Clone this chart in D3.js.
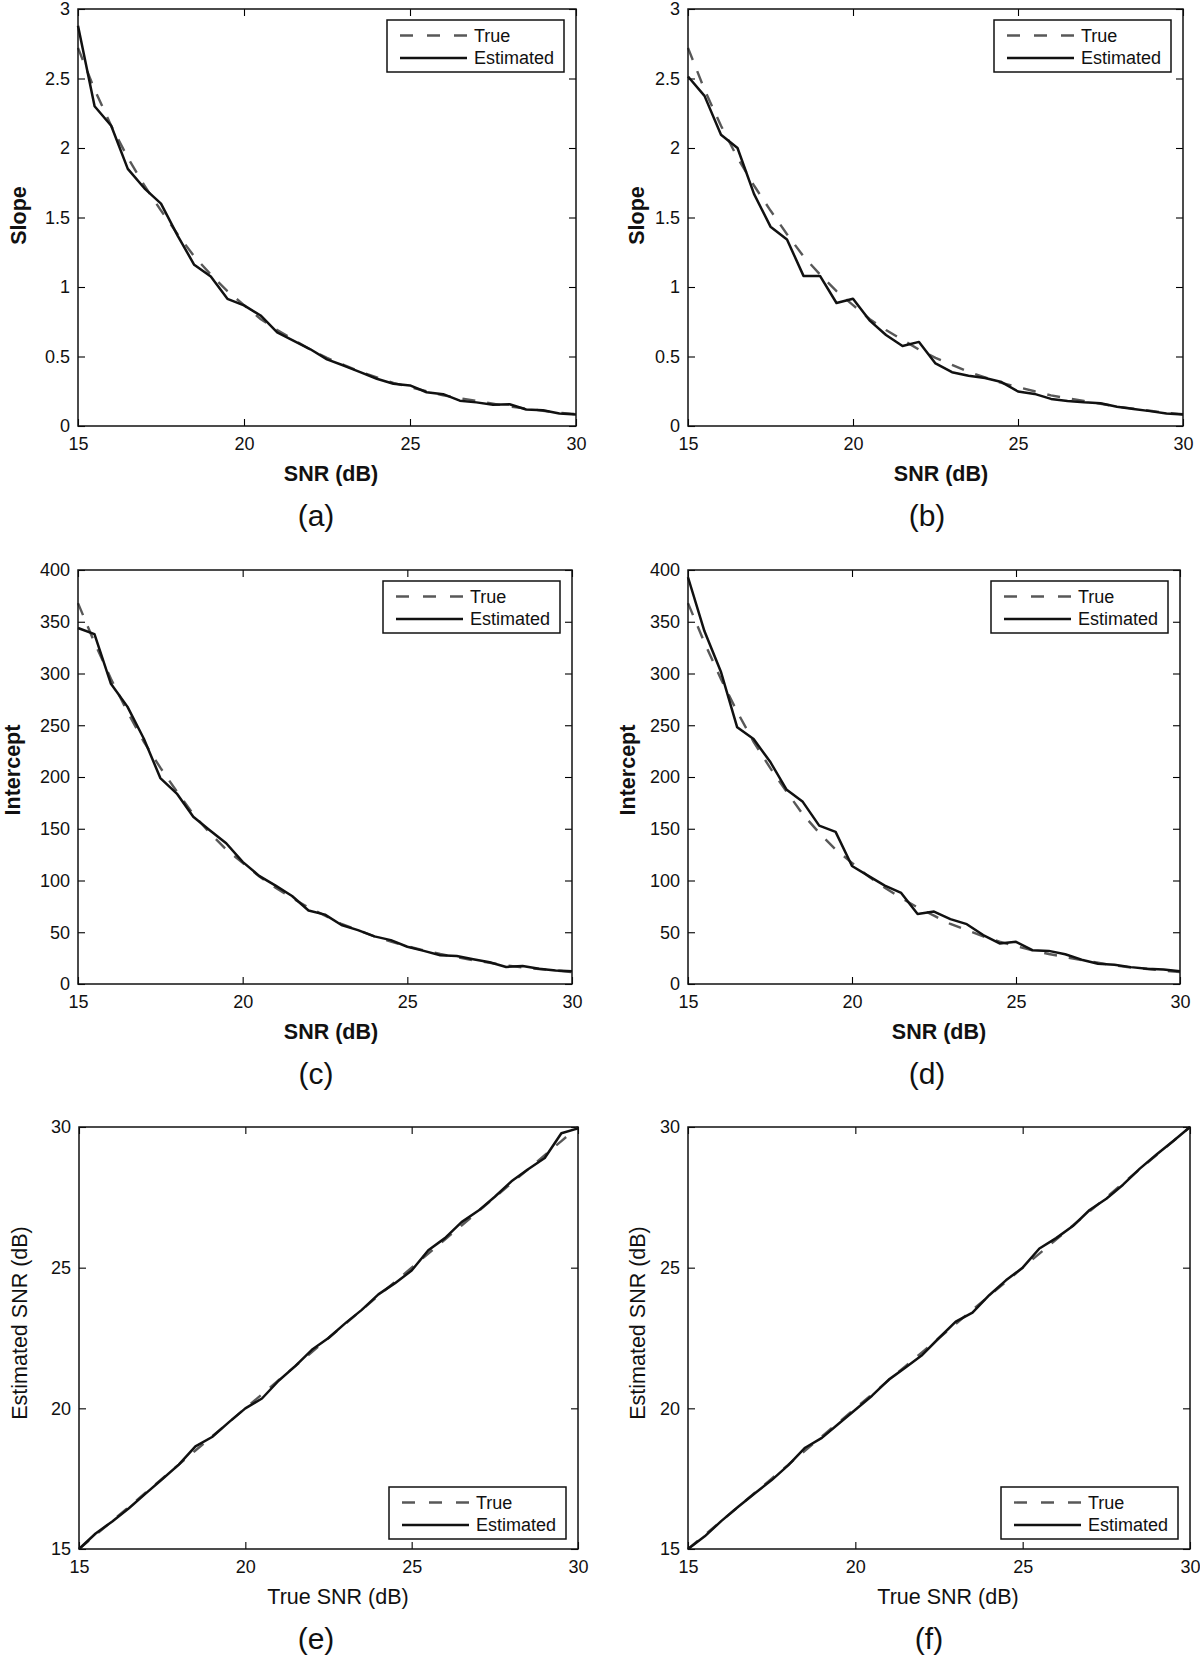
<!DOCTYPE html>
<html>
<head>
<meta charset="utf-8">
<script src="https://cdn.jsdelivr.net/npm/d3@7"></script>
<style>
  html, body { margin: 0; padding: 0; background: #fff; }
  svg { display: block; font-family: "Liberation Sans", Arial, Helvetica, sans-serif; }
</style>
</head>
<body>
<svg id="chart" width="1200" height="1655"></svg>
<script>
// ---------------- DATA ----------------
const snr = [15, 15.5, 16, 16.5, 17, 17.5, 18, 18.5, 19, 19.5, 20, 20.5, 21, 21.5, 22, 22.5,
             23, 23.5, 24, 24.5, 25, 25.5, 26, 26.5, 27, 27.5, 28, 28.5, 29, 29.5, 30];

const slopeTrue = [2.72, 2.42, 2.16, 1.93, 1.73, 1.55, 1.38, 1.22, 1.09, 0.97, 0.87, 0.77, 0.69, 0.62, 0.55, 0.49,
                   0.44, 0.39, 0.35, 0.31, 0.28, 0.25, 0.22, 0.20, 0.18, 0.16, 0.14, 0.125, 0.11, 0.095, 0.085];
const slopeEstA = [2.88, 2.30, 2.16, 1.85, 1.71, 1.60, 1.37, 1.16, 1.075, 0.915, 0.868, 0.795, 0.673, 0.613, 0.552, 0.479,
                   0.435, 0.387, 0.34, 0.304, 0.292, 0.243, 0.229, 0.182, 0.17, 0.153, 0.156, 0.119, 0.114, 0.09, 0.083];
const slopeEstB = [2.514, 2.375, 2.096, 2.0, 1.67, 1.434, 1.342, 1.08, 1.08, 0.885, 0.915, 0.76, 0.655, 0.576, 0.605, 0.45,
                   0.387, 0.362, 0.345, 0.316, 0.248, 0.231, 0.195, 0.18, 0.17, 0.163, 0.139, 0.122, 0.107, 0.09, 0.083];

const interceptTrue = [368, 330, 295, 263, 234, 209, 186, 164, 146, 130, 117, 104, 93, 83, 74, 66,
                       58, 52, 46, 41, 36.5, 32.5, 29, 26, 23, 20.5, 18, 16, 14.5, 13, 11.5];
const interceptEstC = [344, 338, 290, 268, 237, 199, 184, 161.6, 148.6, 136, 118, 104.5, 95, 85, 71, 67,
                       57, 52, 46, 42.4, 36, 32, 27.8, 27, 24, 21, 16.5, 17.3, 14.7, 13, 12.4];
const interceptEstD = [393, 341, 302, 248, 236.7, 215, 188, 176, 153, 147, 114, 104.5, 95, 88, 67.6, 70,
                       62.7, 57.8, 47.3, 39.2, 40.8, 32.7, 32, 28.7, 23.5, 19.6, 18.6, 16.3, 14.7, 14, 12.4];

const snrTrueLine = [15, 15.5, 16, 16.5, 17, 17.5, 18, 18.5, 19, 19.5, 20, 20.5, 21, 21.5, 22, 22.5,
                     23, 23.5, 24, 24.5, 25, 25.5, 26, 26.5, 27, 27.5, 28, 28.5, 29, 29.5, 30];
const snrEstE = [15.0, 15.55, 15.98, 16.45, 16.97, 17.48, 18.0, 18.65, 18.98, 19.5, 20.0, 20.35, 20.98, 21.5, 22.08, 22.5,
                 23.02, 23.5, 24.05, 24.45, 24.9, 25.62, 26.05, 26.62, 27.02, 27.52, 28.07, 28.5, 28.9, 29.78, 29.95];
const snrEstF = [15.0, 15.45, 16.0, 16.5, 16.98, 17.45, 17.98, 18.6, 18.95, 19.45, 19.95, 20.45, 21.02, 21.45, 21.9, 22.5,
                 23.08, 23.4, 24.02, 24.55, 25.0, 25.68, 26.05, 26.48, 27.05, 27.45, 27.95, 28.52, 29.02, 29.5, 30.0];

const xTicks = [15, 20, 25, 30];
const slopeTicks = [0, 0.5, 1, 1.5, 2, 2.5, 3];
const interceptTicks = [0, 50, 100, 150, 200, 250, 300, 350, 400];
const snrTicks = [15, 20, 25, 30];
const legendLabels = ["True", "Estimated"];

// ---------------- LAYOUT ----------------
const panels = [
  { id: "(a)", box: [78, 9, 576, 426], yDomain: [0, 3], yTicks: slopeTicks, trueY: slopeTrue, estY: slopeEstA,
    xLabel: "SNR (dB)", yLabel: "Slope", bold: true, legend: "top", yLabelX: 18, yLabelDy: -2, xLabelX: 331, subX: 316 },
  { id: "(b)", box: [688, 9, 1183, 426], yDomain: [0, 3], yTicks: slopeTicks, trueY: slopeTrue, estY: slopeEstB,
    xLabel: "SNR (dB)", yLabel: "Slope", bold: true, legend: "top", yLabelX: 636, yLabelDy: -2, xLabelX: 941, subX: 927 },
  { id: "(c)", box: [78, 570, 572, 984], yDomain: [0, 400], yTicks: interceptTicks, trueY: interceptTrue, estY: interceptEstC,
    xLabel: "SNR (dB)", yLabel: "Intercept", bold: true, legend: "top", yLabelX: 12, yLabelDy: -7, xLabelX: 331, subX: 316 },
  { id: "(d)", box: [688, 570, 1180, 984], yDomain: [0, 400], yTicks: interceptTicks, trueY: interceptTrue, estY: interceptEstD,
    xLabel: "SNR (dB)", yLabel: "Intercept", bold: true, legend: "top", yLabelX: 627, yLabelDy: -7, xLabelX: 939, subX: 927 },
  { id: "(e)", box: [79, 1127, 578, 1549], yDomain: [15, 30], yTicks: snrTicks, trueY: snrTrueLine, estY: snrEstE,
    xLabel: "True SNR (dB)", yLabel: "Estimated SNR (dB)", bold: false, legend: "bottom", yLabelX: 19, yLabelDy: -15, xLabelX: 338, subX: 316 },
  { id: "(f)", box: [688, 1127, 1190, 1549], yDomain: [15, 30], yTicks: snrTicks, trueY: snrTrueLine, estY: snrEstF,
    xLabel: "True SNR (dB)", yLabel: "Estimated SNR (dB)", bold: false, legend: "bottom", yLabelX: 637, yLabelDy: -15, xLabelX: 948, subX: 929 }
];

const svg = d3.select("#chart");
const TICK_FONT = 18, LABEL_FONT_B = 21.5, LABEL_FONT_R = 21.5, SUB_FONT = 30, LEG_FONT = 18;
const DASH = "13,12";

panels.forEach(p => {
  const [x0, y0, x1, y1] = p.box;
  const w = x1 - x0, h = y1 - y0;
  const x = d3.scaleLinear().domain([15, 30]).range([0, w]);
  const y = d3.scaleLinear().domain(p.yDomain).range([h, 0]);

  const g = svg.append("g").attr("transform", `translate(${x0},${y0})`);

  const styleAxis = sel => {
    sel.select(".domain").remove();
    sel.selectAll(".tick line").attr("stroke", "#000").attr("stroke-width", 1.1);
    sel.selectAll(".tick text").attr("fill", "#111").style("font-size", TICK_FONT + "px")
       .style("font-family", '"Liberation Sans", Arial, sans-serif');
  };
  g.append("g").attr("transform", `translate(0,${h})`)
    .call(d3.axisBottom(x).tickValues(xTicks).tickFormat(d3.format("d")).tickSizeInner(-7).tickSizeOuter(0).tickPadding(11))
    .call(styleAxis);
  g.append("g")
    .call(d3.axisTop(x).tickValues(xTicks).tickFormat("").tickSizeInner(-7).tickSizeOuter(0))
    .call(styleAxis);
  g.append("g")
    .call(d3.axisLeft(y).tickValues(p.yTicks).tickFormat(d => String(d)).tickSizeInner(-7).tickSizeOuter(0).tickPadding(8))
    .call(styleAxis);
  g.append("g").attr("transform", `translate(${w},0)`)
    .call(d3.axisRight(y).tickValues(p.yTicks).tickFormat("").tickSizeInner(-7).tickSizeOuter(0))
    .call(styleAxis);

  const trueData = snr.map((s, i) => [s, p.trueY[i]]);
  const estData = snr.map((s, i) => [s, p.estY[i]]);
  const line = d3.line().x(d => x(d[0])).y(d => y(d[1]));

  g.append("path").datum(trueData).attr("d", line)
    .attr("fill", "none").attr("stroke", "#585858").attr("stroke-width", 2.4)
    .attr("stroke-dasharray", DASH);
  g.append("path").datum(estData).attr("d", line)
    .attr("fill", "none").attr("stroke", "#111").attr("stroke-width", 2.5)
    .attr("stroke-linejoin", "round");

  g.append("rect").attr("x", 0).attr("y", 0).attr("width", w).attr("height", h)
    .attr("fill", "none").attr("stroke", "#111").attr("stroke-width", 1.5);

  // legend
  const lw = 177, lh = 52;
  const lx = w - 12 - lw;
  const ly = p.legend === "top" ? 11 : h - 10 - lh;
  const lg = g.append("g").attr("transform", `translate(${lx},${ly})`);
  lg.append("rect").attr("width", lw).attr("height", lh)
    .attr("fill", "#fff").attr("stroke", "#111").attr("stroke-width", 1.5);
  legendLabels.forEach((lab, i) => {
    const yy = 15.5 + i * 22.5;
    lg.append("line").attr("x1", 13).attr("x2", 80).attr("y1", yy).attr("y2", yy)
      .attr("stroke", i === 0 ? "#585858" : "#111").attr("stroke-width", 2.4)
      .attr("stroke-dasharray", i === 0 ? "13,14" : null);
    lg.append("text").attr("x", 87).attr("y", yy).attr("dy", "0.35em")
      .style("font-size", LEG_FONT + "px").attr("fill", "#111").text(lab);
  });

  // axis labels
  svg.append("text").attr("x", p.xLabelX).attr("y", y1 + 47).attr("dy", "0.35em")
    .attr("text-anchor", "middle").style("font-size", (p.bold ? LABEL_FONT_B : LABEL_FONT_R) + "px")
    .style("font-weight", p.bold ? "bold" : "normal").attr("fill", "#111").text(p.xLabel);
  svg.append("text")
    .attr("transform", `translate(${p.yLabelX},${(y0 + y1) / 2 + p.yLabelDy}) rotate(-90)`)
    .attr("dy", "0.35em").attr("text-anchor", "middle")
    .style("font-size", (p.bold ? LABEL_FONT_B : LABEL_FONT_R) + "px").style("font-weight", p.bold ? "bold" : "normal")
    .attr("fill", "#111").text(p.yLabel);

  svg.append("text").attr("x", p.subX).attr("y", y1 + 89).attr("dy", "0.35em")
    .attr("text-anchor", "middle").style("font-size", SUB_FONT + "px")
    .attr("fill", "#111").text(p.id);
});
</script>
</body>
</html>
